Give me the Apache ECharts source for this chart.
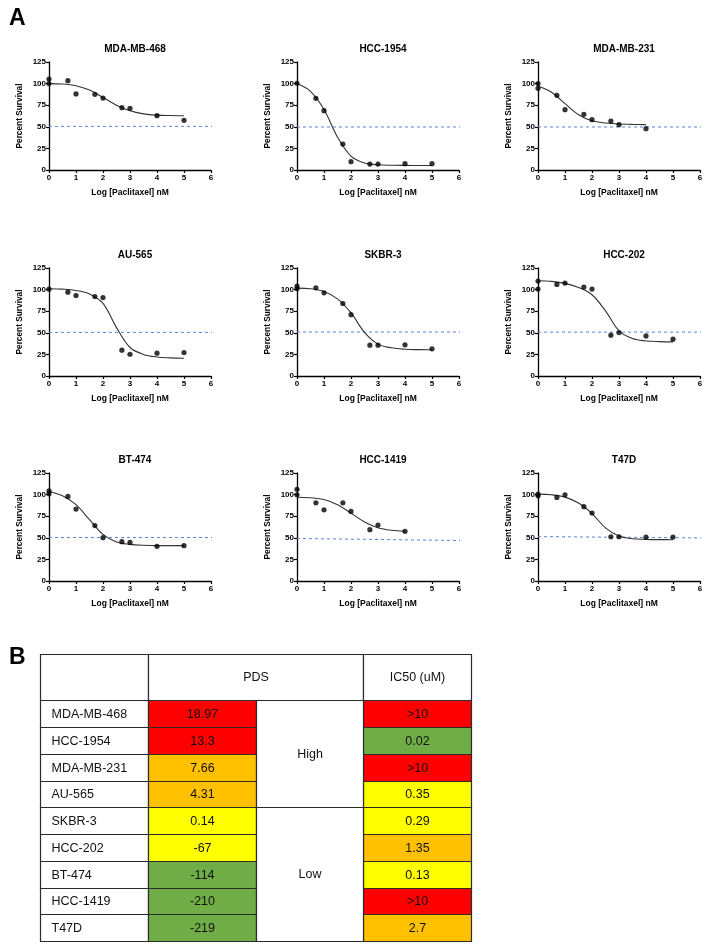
<!DOCTYPE html>
<html>
<head>
<meta charset="utf-8">
<script src="https://cdn.jsdelivr.net/npm/echarts@6/dist/echarts.min.js"></script>
<style>
html,body{margin:0;padding:0;background:#fff;}
#chart{width:709px;height:945px;}
</style>
</head>
<body>
<div id="chart"></div>
<script>
// ---------------- DATA ----------------
const panelTitles = ['MDA-MB-468','HCC-1954','MDA-MB-231','AU-565','SKBR-3','HCC-202','BT-474','HCC-1419','T47D'];
const xTicks = [0,1,2,3,4,5,6];
const yTicks = [0,25,50,75,100,125];

// observed points: log[Paclitaxel] nM and percent survival
const pointsX = [
  [0,0,0.699,1,1.699,2,2.699,3,4,5],
  [0,0.699,1,1.699,2,2.699,3,4,5],
  [0,0,0.699,1,1.699,2,2.699,3,4],
  [0,0.699,1,1.699,2,2.699,3,4,5],
  [0,0,0.699,1,1.699,2,2.699,3,4,5],
  [0,0,0.699,1,1.699,2,2.699,3,4,5],
  [0,0,0.699,1,1.699,2,2.699,3,4,5],
  [0,0,0.699,1,1.699,2,2.699,3,4],
  [0,0,0.699,1,1.699,2,2.699,3,4,5]
];
const pointsY = [
  [105.3,100,103.4,88,87.6,83.3,72.1,71.4,62.9,57.5],
  [100.3,82.9,68.7,30,9.6,6.9,6.9,7.3,7.3],
  [100,94.5,86.4,69.8,64.4,58.3,56.7,52.5,47.8],
  [100.5,97,93.2,92,90.8,29.9,25.2,26.4,27.2],
  [104,101,102,96.3,83.9,71,35.7,35.7,36.1,31.4],
  [109.9,100.6,106,107.5,102.9,100.6,47.2,50.3,46.4,42.6],
  [104.4,100.9,97.9,83.3,64.2,50.1,45.5,44.7,40.1,40.9],
  [106.2,99.7,90.5,82.4,90.5,80.5,59.4,64.8,57.5],
  [100.5,98.6,96.7,99.8,86,78.7,51.2,51.2,50.8,50.8]
];

// fitted curves at these x values
const curveX = [0,0.5,1,1.5,2,2.5,3,3.5,4,4.5,5];
const curveY = [
  [100,99.5,97.5,92.5,84,75,68.5,65,63.5,63,62.8],
  [100,91,70,38,16,8,6,5.5,5.3,5.2,5.2],
  [97.2,90,76.8,64,57,54.4,53.2,52.8,52.5],
  [101,100.5,99,95,84,56,33,25,22,21,20.5],
  [101.7,101,97.8,89.3,73,50.5,36.9,32.6,31,30.5,30.3],
  [110.2,109.5,107.2,102.5,94,75.4,52.2,43.3,40.6,39.8,39.5],
  [103.6,98.6,88.3,71,53.9,45.1,42.4,41.3,40.9,40.9,40.9],
  [97,96.3,94.3,88.2,78.6,68.3,61.7,58.7,57.5],
  [100.5,99.8,97.1,90.2,78,61.5,52,48.9,48.2,47.9,47.8]
];

// 50% reference line (value at left end, value at right end)
const refLineX = [0, 6.25];
const refLineY = [
  [50.5,50.5],[49.8,49.8],[49.8,49.8],
  [50.5,50.5],[50.9,50.9],[50.8,50.8],
  [50.3,50.3],[49.2,46.8],[51.4,49.8]
];

// table
const cellLines = ['MDA-MB-468','HCC-1954','MDA-MB-231','AU-565','SKBR-3','HCC-202','BT-474','HCC-1419','T47D'];
const pdsValues = ['18.97','13.3','7.66','4.31','0.14','-67','-114','-210','-219'];
const pdsLevel  = ['red','red','orange','orange','yellow','yellow','green','green','green'];
const pdsGroups = [{label:'High', from:0, to:4},{label:'Low', from:4, to:9}];
const ic50Values = ['>10','0.02','>10','0.35','0.29','1.35','0.13','>10','2.7'];
const ic50Level  = ['red','green','red','yellow','yellow','orange','yellow','red','orange'];
const tableHeaders = ['', 'PDS', 'IC50 (uM)'];

// ---------------- LAYOUT / STYLE ----------------
const levelColor = {red:'#FF0000', orange:'#FFC000', yellow:'#FFFF00', green:'#70AD47', white:'#FFFFFF'};
const gridLefts = [49, 297, 538];
const gridTops = [62, 268, 473];
const gridW = 162, gridH = 108;
const FONT = '"Liberation Sans", Arial, Helvetica, sans-serif';
const refColor = '#5b84d6';

const grids = [], xAxes = [], yAxes = [], series = [], titles = [];

titles.push({text:'A', left:4, top:2, textStyle:{fontFamily:FONT, fontWeight:'bold', fontSize:23, color:'#000'}});
titles.push({text:'B', left:4, top:641, textStyle:{fontFamily:FONT, fontWeight:'bold', fontSize:23, color:'#000'}});

for (let i = 0; i < 9; i++) {
  const r = Math.floor(i / 3), c = i % 3;
  grids.push({left: gridLefts[c], top: gridTops[r], width: gridW, height: gridH, containLabel:false, outerBoundsMode:'none'});
  titles.push({
    text: panelTitles[i], left: gridLefts[c] + gridW / 2, top: gridTops[r] - 23, textAlign: 'center',
    textStyle: {fontFamily: FONT, fontWeight: 'bold', fontSize: 10, color: '#000'}
  });
  xAxes.push({
    type:'value', gridIndex:i, min:xTicks[0], max:xTicks[xTicks.length-1], interval:1,
    name:'Log [Paclitaxel] nM', nameLocation:'middle', nameGap:18,
    nameTextStyle:{fontFamily:FONT, fontWeight:'bold', fontSize:8.5, color:'#000'},
    axisLine:{onZero:false, lineStyle:{color:'#000', width:1.3}},
    axisTick:{length:3, lineStyle:{color:'#000', width:1.2}},
    axisLabel:{fontFamily:FONT, fontWeight:'bold', fontSize:8, color:'#000', margin:4},
    splitLine:{show:false}
  });
  yAxes.push({
    type:'value', gridIndex:i, min:yTicks[0], max:yTicks[yTicks.length-1], interval:25,
    name:'Percent Survival', nameLocation:'middle', nameGap:25,
    nameTextStyle:{fontFamily:FONT, fontWeight:'bold', fontSize:8.3, color:'#000'},
    axisLine:{show:true, onZero:false, lineStyle:{color:'#000', width:1.3}},
    axisTick:{show:true, length:3, lineStyle:{color:'#000', width:1.2}},
    axisLabel:{fontFamily:FONT, fontWeight:'bold', fontSize:8, color:'#000', margin:3},
    splitLine:{show:false}
  });
  series.push({
    type:'line', xAxisIndex:i, yAxisIndex:i, silent:true, symbol:'none', clip:false, z:1,
    lineStyle:{color:refColor, width:1, type:[3,3]},
    data: refLineX.map((x, k) => [x, refLineY[i][k]])
  });
  series.push({
    type:'line', xAxisIndex:i, yAxisIndex:i, silent:true, symbol:'none', smooth:0.35, z:2,
    lineStyle:{color:'#333', width:1.1},
    data: curveY[i].map((y, k) => [curveX[k], y])
  });
  series.push({
    type:'scatter', xAxisIndex:i, yAxisIndex:i, silent:true, symbolSize:5.2, z:3,
    itemStyle:{color:'#000'},
    data: pointsY[i].map((y, k) => [pointsX[i][k], y])
  });
}

// table grid (index 9)
const HDR = 1.74;
grids.push({left:40, top:654, width:431, height:287, containLabel:false, outerBoundsMode:'none'});
xAxes.push({type:'value', gridIndex:9, min:0, max:4, show:false});
yAxes.push({type:'value', gridIndex:9, min:-HDR, max:cellLines.length, inverse:true, show:false});

const cells = [];
cells.push({c0:0, c1:1, r0:-HDR, r1:0, fill:'white', text:tableHeaders[0], align:'center'});
cells.push({c0:1, c1:3, r0:-HDR, r1:0, fill:'white', text:tableHeaders[1], align:'center'});
cells.push({c0:3, c1:4, r0:-HDR, r1:0, fill:'white', text:tableHeaders[2], align:'center'});
cellLines.forEach((name, k) => {
  cells.push({c0:0, c1:1, r0:k, r1:k+1, fill:'white', text:name, align:'left'});
  cells.push({c0:1, c1:2, r0:k, r1:k+1, fill:pdsLevel[k], text:pdsValues[k], align:'center'});
  cells.push({c0:3, c1:4, r0:k, r1:k+1, fill:ic50Level[k], text:ic50Values[k], align:'center'});
});
pdsGroups.forEach(g => cells.push({c0:2, c1:3, r0:g.from, r1:g.to, fill:'white', text:g.label, align:'center'}));

series.push({
  type:'custom', xAxisIndex:9, yAxisIndex:9, silent:true, clip:false,
  data: cells.map(c => [c.c0, c.c1, c.r0, c.r1]),
  renderItem: function (params, api) {
    const cell = cells[params.dataIndex];
    const p0 = api.coord([api.value(0), api.value(2)]);
    const p1 = api.coord([api.value(1), api.value(3)]);
    const x = Math.round(p0[0]) + 0.5, y = Math.round(p0[1]) + 0.5;
    const w = Math.round(p1[0]) - Math.round(p0[0]), h = Math.round(p1[1]) - Math.round(p0[1]);
    const tx = cell.align === 'left' ? x + 11 : x + w / 2;
    return {
      type:'group',
      children:[
        {type:'rect', shape:{x:x, y:y, width:w, height:h}, style:{fill:levelColor[cell.fill], stroke:'#2b2b2b', lineWidth:1.2}},
        {type:'text', x:tx, y:y + h / 2 + 0.5, style:{text:cell.text, fill:'#111', font:'12.5px ' + FONT, align:cell.align, verticalAlign:'middle'}}
      ]
    };
  }
});

const chart = echarts.init(document.getElementById('chart'), null, {renderer:'canvas'});
chart.setOption({
  animation:false,
  backgroundColor:'#fff',
  title: titles,
  grid: grids,
  xAxis: xAxes,
  yAxis: yAxes,
  series: series
});
</script>
</body>
</html>
